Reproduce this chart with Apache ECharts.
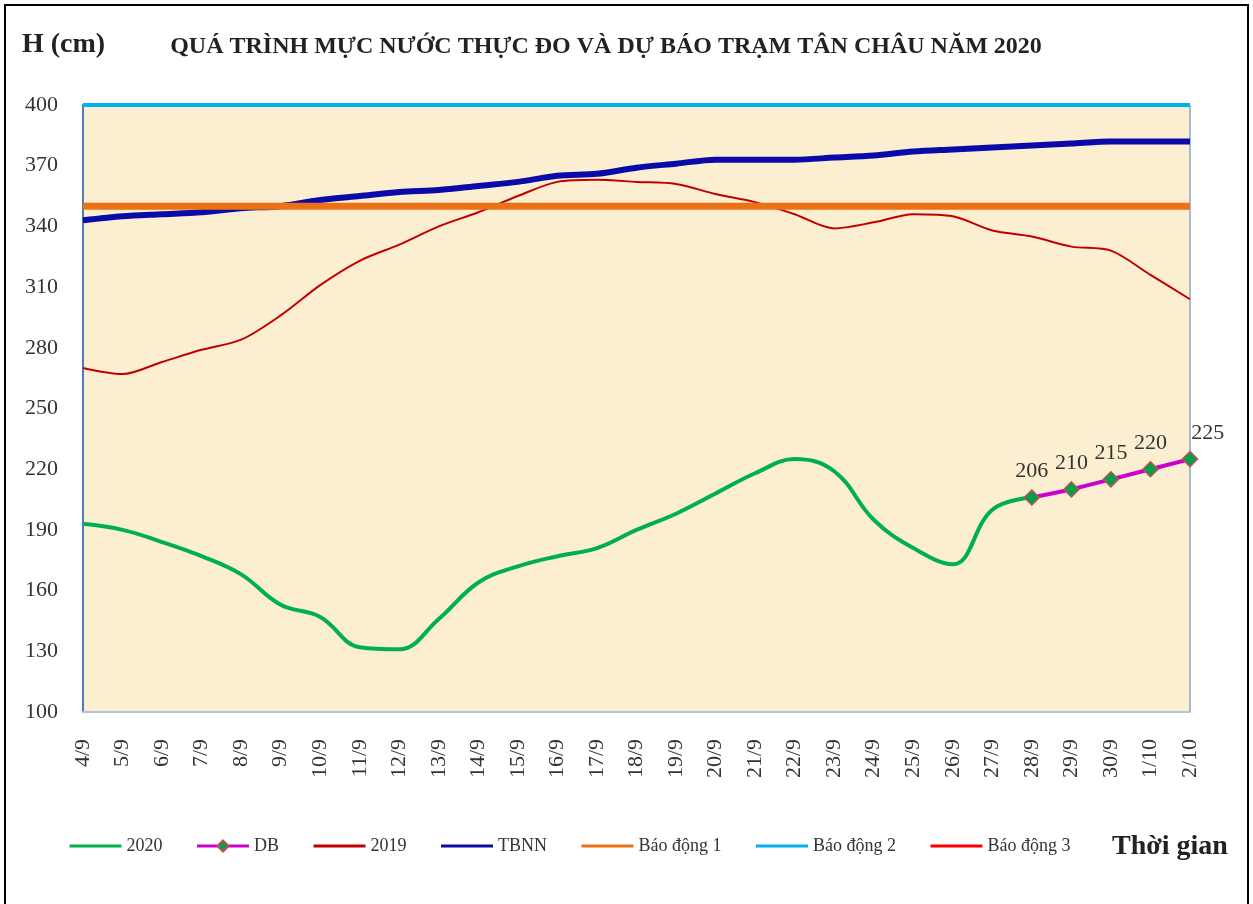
<!DOCTYPE html>
<html>
<head>
<meta charset="utf-8">
<title>Tân Châu 2020</title>
<script src="https://cdn.jsdelivr.net/npm/echarts@6/dist/echarts.min.js"></script>
<style>
  html, body { margin: 0; padding: 0; background: #fff; }
  #chart { width: 1253px; height: 904px; }
</style>
</head>
<body>
<div id="chart"></div>
<script>
// ngày trên trục hoành
const days = ["4/9", "5/9", "6/9", "7/9", "8/9", "9/9", "10/9", "11/9", "12/9", "13/9",
  "14/9", "15/9", "16/9", "17/9", "18/9", "19/9", "20/9", "21/9", "22/9", "23/9",
  "24/9", "25/9", "26/9", "27/9", "28/9", "29/9", "30/9", "1/10", "2/10"];

// mực nước thực đo 2020 (4/9 -> 28/9)
const h2020 = [193, 190, 184, 177, 168, 153, 147, 132, 131, 146, 164, 172, 177, 181,
  190, 198, 208, 218, 225, 219, 195, 181, 173, 200, 206];

// dự báo
const dbDays = ["28/9", "29/9", "30/9", "1/10", "2/10"];
const dbValues = [206, 210, 215, 220, 225];

// cùng kỳ 2019
const h2019 = [270, 267, 273, 279, 284, 296, 311, 323, 331, 340, 347, 355, 362, 363,
  362, 361, 356, 352, 346, 339, 342, 346, 345, 338, 335, 330, 328, 316, 304];

// trung bình nhiều năm
const tbnn = [343, 345, 346, 347, 349, 350, 353, 355, 357, 358, 360, 362, 365, 366,
  369, 371, 373, 373, 373, 374, 375, 377, 378, 379, 380, 381, 382, 382, 382];

// các cấp báo động
const baoDong1 = [350, 350, 350, 350, 350, 350, 350, 350, 350, 350, 350, 350, 350, 350, 350,
  350, 350, 350, 350, 350, 350, 350, 350, 350, 350, 350, 350, 350, 350];
const baoDong2 = [400, 400, 400, 400, 400, 400, 400, 400, 400, 400, 400, 400, 400, 400, 400,
  400, 400, 400, 400, 400, 400, 400, 400, 400, 400, 400, 400, 400, 400];
const baoDong3 = [450, 450, 450, 450, 450, 450, 450, 450, 450, 450, 450, 450, 450, 450, 450,
  450, 450, 450, 450, 450, 450, 450, 450, 450, 450, 450, 450, 450, 450];

const yTicks = { min: 100, max: 400, step: 30 };

const serif = "'Liberation Serif', 'DejaVu Serif', serif";

const chart = echarts.init(document.getElementById("chart"));

// dữ liệu dự báo dạng [ngày, giá trị]
const dbData = dbDays.map(function (d, i) {
  const item = { value: [d, dbValues[i]] };
  if (i === dbDays.length - 1) {
    item.label = { position: "right", offset: [-14, -26] };
  }
  return item;
});

function flatLine(name, data, color, width) {
  return {
    name: name,
    type: "line",
    data: data,
    symbol: "none",
    clip: true,
    lineStyle: { color: color, width: width },
    itemStyle: { color: color },
    z: 3,
  };
}

// chú giải chỉ có nét, không có chấm
function lineOnly(name) {
  return { name: name, itemStyle: { opacity: 0 } };
}

chart.setOption({
  animation: false,
  backgroundColor: "#fff",
  textStyle: { fontFamily: serif },
  grid: {
    left: 83,
    right: 63,
    top: 105,
    bottom: 192,
    show: true,
    backgroundColor: "#fcefd1",
    borderColor: "#4a7ebb",
    borderWidth: 1,
  },
  legend: {
    left: 68,
    top: 837,
    padding: 0,
    itemWidth: 52,
    itemHeight: 14,
    itemGap: 33,
    textStyle: { fontFamily: serif, fontSize: 18, color: "#333" },
    lineStyle: { width: 3 },
    data: [
      lineOnly("2020"),
      { name: "DB" },
      lineOnly("2019"),
      lineOnly("TBNN"),
      lineOnly("Báo động 1"),
      lineOnly("Báo động 2"),
      lineOnly("Báo động 3"),
    ],
  },
  xAxis: {
    type: "category",
    data: days,
    boundaryGap: false,
    axisLine: { lineStyle: { color: "#b9c3d3", width: 2 } },
    axisTick: { show: false },
    splitLine: { show: false },
    axisLabel: {
      rotate: 90,
      margin: 27,
      interval: 0,
      fontFamily: serif,
      fontSize: 22,
      color: "#333",
    },
  },
  yAxis: {
    type: "value",
    min: yTicks.min,
    max: yTicks.max,
    interval: yTicks.step,
    axisLine: { show: true, lineStyle: { color: "#4a7ebb", width: 2 } },
    axisTick: { show: false },
    splitLine: { show: false },
    axisLabel: { margin: 25, fontFamily: serif, fontSize: 22, color: "#333" },
  },
  graphic: [
    {
      type: "rect",
      shape: { x: 5, y: 5, width: 1243, height: 910 },
      style: { fill: "none", stroke: "#000", lineWidth: 2 },
      silent: true,
    },
    {
      type: "text",
      left: 22,
      top: 31,
      style: { text: "H (cm)", font: "bold 28px " + serif, fill: "#222" },
    },
    {
      type: "text",
      x: 606,
      y: 47,
      style: {
        text: "QUÁ TRÌNH MỰC NƯỚC THỰC ĐO VÀ DỰ BÁO TRẠM TÂN CHÂU NĂM 2020",
        font: "bold 24px " + serif,
        fill: "#222",
        align: "center",
        verticalAlign: "middle",
      },
    },
    {
      type: "text",
      left: 1112,
      top: 833,
      style: { text: "Thời gian", font: "bold 28px " + serif, fill: "#222" },
    },
  ],
  series: [
    {
      name: "2020",
      type: "line",
      data: h2020,
      smooth: 0.4,
      symbol: "none",
      lineStyle: { color: "#00b050", width: 4 },
      itemStyle: { color: "#00b050" },
      z: 3,
    },
    {
      name: "DB",
      type: "line",
      data: dbData,
      symbol: "diamond",
      symbolSize: 15,
      lineStyle: { color: "#cc00cc", width: 4 },
      itemStyle: { color: "#00a050", borderColor: "#c0504d", borderWidth: 1.5 },
      label: {
        show: true,
        position: "top",
        distance: 7,
        fontFamily: serif,
        fontSize: 22,
        color: "#333",
      },
      z: 6,
    },
    {
      name: "2019",
      type: "line",
      data: h2019,
      smooth: 0.3,
      symbol: "none",
      lineStyle: { color: "#c00000", width: 2 },
      itemStyle: { color: "#c00000" },
      z: 3,
    },
    {
      name: "TBNN",
      type: "line",
      data: tbnn,
      smooth: 0.3,
      symbol: "none",
      lineStyle: { color: "#0a0aa8", width: 6 },
      itemStyle: { color: "#0a0aa8" },
      z: 3,
    },
    flatLine("Báo động 1", baoDong1, "#ec7116", 7),
    flatLine("Báo động 2", baoDong2, "#00b0f0", 4),
    flatLine("Báo động 3", baoDong3, "#ff0000", 3),
  ],
});
</script>
</body>
</html>
